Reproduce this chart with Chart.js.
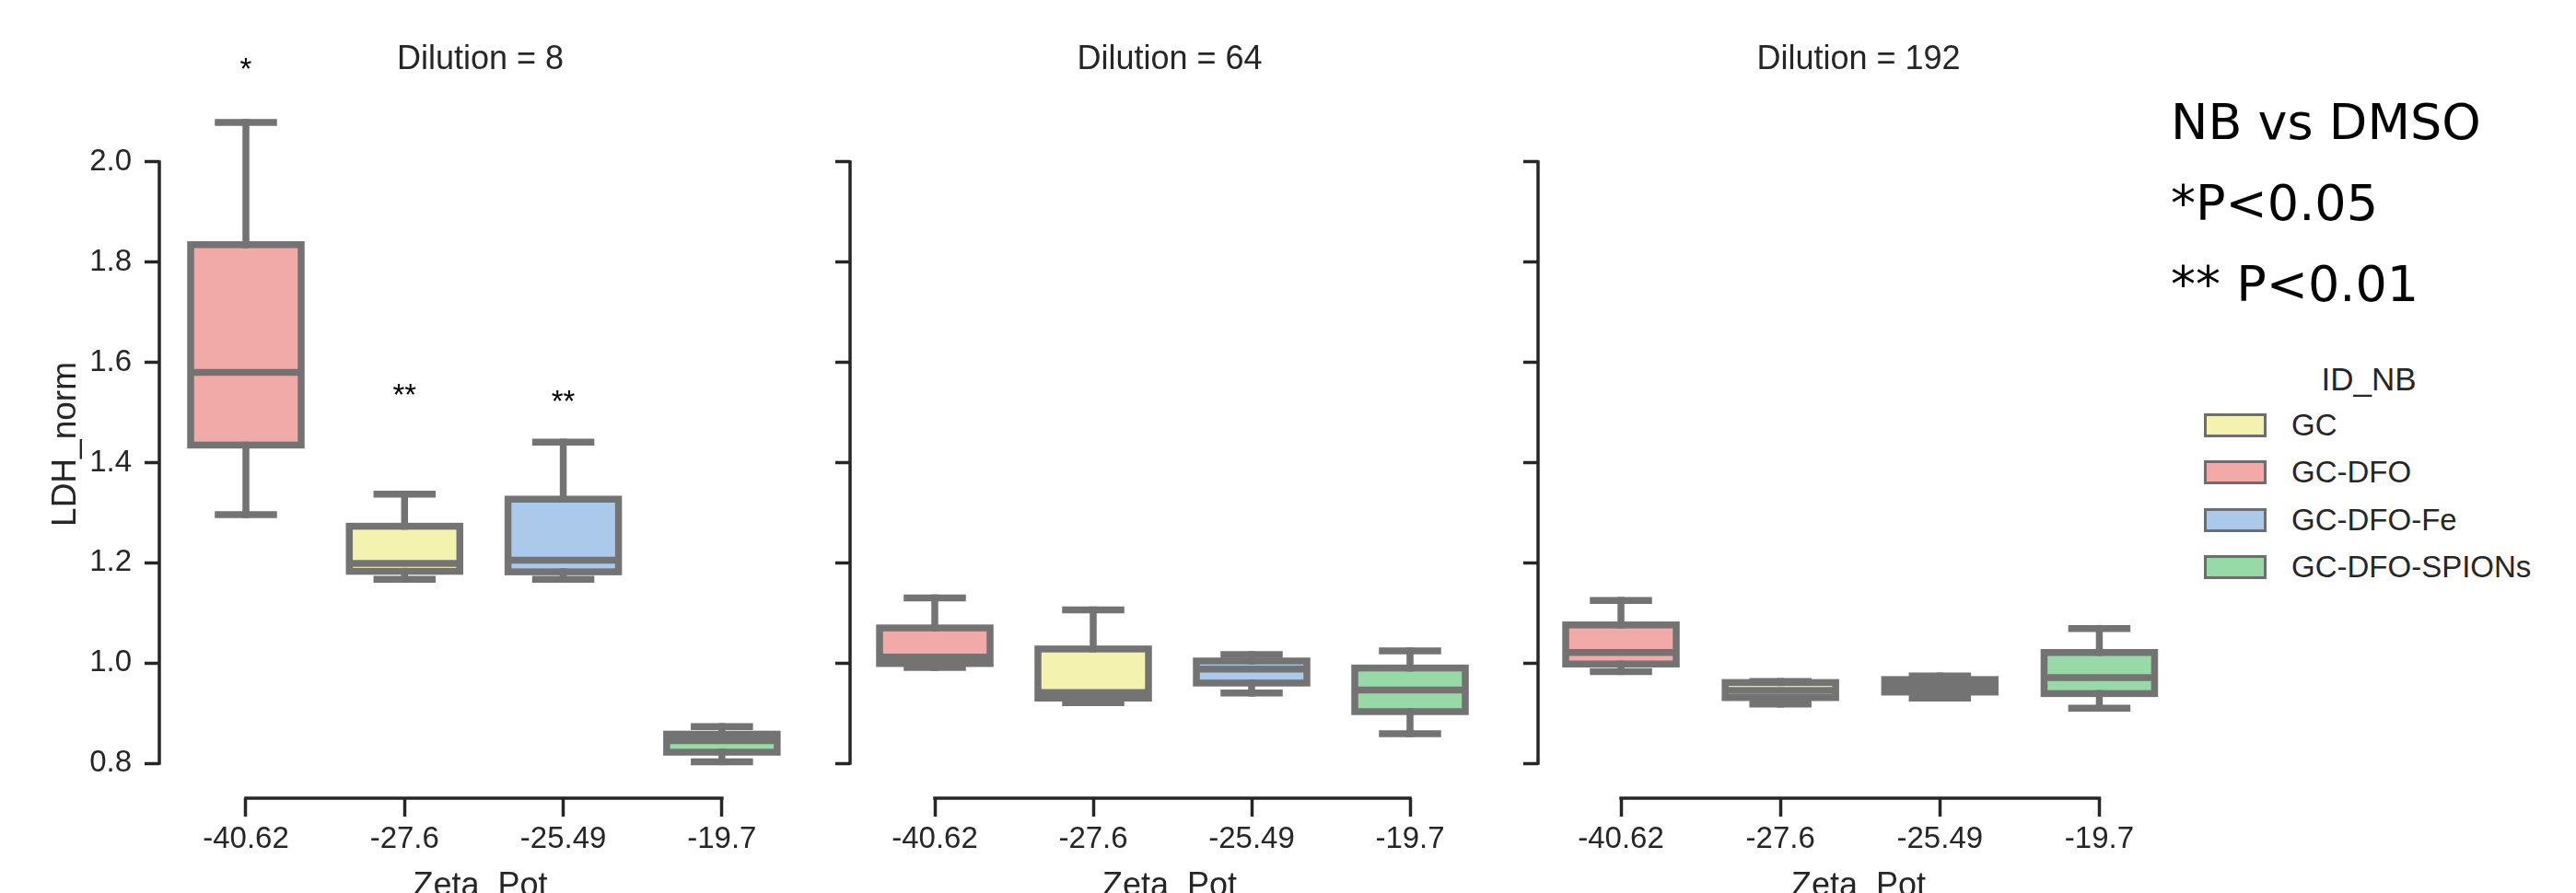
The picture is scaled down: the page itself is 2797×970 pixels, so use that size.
<!DOCTYPE html>
<html>
<head>
<meta charset="utf-8">
<title>LDH_norm by Zeta_Pot</title>
<script src="https://cdn.jsdelivr.net/npm/chart.js@4.4.1/dist/chart.umd.min.js"></script>
<style>
  html, body { margin: 0; padding: 0; background: #fff; overflow: hidden; }
  #wrap { position: relative; width: 2797px; height: 970px; overflow: hidden; }
  #wrap canvas { position: absolute; top: 0; }
  #note {
    position: absolute; left: 2357px; top: 89px;
    font-family: 'DejaVu Sans', Verdana, sans-serif; font-size: 54px; line-height: 88px;
    color: #000; white-space: pre;
  }
  #legend { position: absolute; left: 2393px; top: 388px; width: 358px;
    font-family: 'Liberation Sans', Arial, sans-serif; color: #262626; }
  #legend .ttl { text-align: center; font-size: 35px; line-height: 48px; }
  #legend .row { display: flex; align-items: center; height: 51.5px; font-size: 33px; white-space: nowrap; }
  #legend .sw { width: 68px; height: 26px; box-sizing: border-box; border: 3.5px solid #6e6e6e; margin-right: 27px; }
</style>
</head>
<body>
<div id="wrap">
  <div id="note">NB vs DMSO
*P&lt;0.05
** P&lt;0.01</div>
  <div id="legend"><div class="ttl">ID_NB</div></div>
</div>
<script>
/* ── Data ── */
var zetaLabels   = ['-40.62', '-27.6', '-25.49', '-19.7'];
var groupOfBox   = ['GC-DFO', 'GC', 'GC-DFO-Fe', 'GC-DFO-SPIONs'];
var legendGroups = ['GC', 'GC-DFO', 'GC-DFO-Fe', 'GC-DFO-SPIONs'];
var groupColors  = ['#f3f2af', '#f2aaa8', '#abc9ea', '#98daa7'];
var dilutions    = [8, 64, 192];
var yTicks       = [0.8, 1.0, 1.2, 1.4, 1.6, 1.8, 2.0];

// Dilution = 8
var d8Low  = [1.296, 1.167, 1.167, 0.803];
var d8Q1   = [1.435, 1.183, 1.182, 0.822];
var d8Med  = [1.580, 1.199, 1.205, 0.845];
var d8Q3   = [1.835, 1.273, 1.327, 0.858];
var d8High = [2.079, 1.337, 1.441, 0.873];
var d8Sig  = ['*', '**', '**', ''];
var d8SigY = [2.182, 1.531, 1.518, null];

// Dilution = 64
var d64Low  = [0.991, 0.921, 0.940, 0.859];
var d64Q1   = [0.999, 0.930, 0.960, 0.903];
var d64Med  = [1.012, 0.941, 0.988, 0.946];
var d64Q3   = [1.070, 1.028, 1.004, 0.990];
var d64High = [1.130, 1.106, 1.017, 1.024];

// Dilution = 192
var d192Low  = [0.983, 0.918, 0.930, 0.910];
var d192Q1   = [0.998, 0.931, 0.942, 0.939];
var d192Med  = [1.021, 0.945, 0.955, 0.971];
var d192Q3   = [1.076, 0.961, 0.967, 1.021];
var d192High = [1.125, 0.963, 0.974, 1.069];

/* ── Look ── */
var ink = '#262626';
var boxGray = '#737373';
var H = 1000;          // canvas height (page clips at 970)
var AREA_BOTTOM = 867; // x spine line
Chart.defaults.font.family = "'Liberation Sans', Arial, sans-serif";

var panels = [
    { low: d8Low,   q1: d8Q1,   med: d8Med,   q3: d8Q3,   high: d8High,   sig: d8Sig, sigY: d8SigY,
      left: 0,    width: 870, axisW: 173, xMin: -0.5456, yLabels: true },
    { low: d64Low,  q1: d64Q1,  med: d64Med,  q3: d64Q3,  high: d64High,  sig: [], sigY: [],
      left: 880,  width: 737, axisW: 43,  xMin: -0.5349, yLabels: false },
    { low: d192Low, q1: d192Q1, med: d192Med, q3: d192Q3, high: d192High, sig: [], sigY: [],
      left: 1627, width: 739, axisW: 43,  xMin: -0.52,   yLabels: false }
];

function seg(ctx, x1, y1, x2, y2) {
    ctx.beginPath(); ctx.moveTo(x1, y1); ctx.lineTo(x2, y2); ctx.stroke();
}

/* whiskers, caps, box outline, median + trimmed spines + stars */
var boxLines = {
    id: 'boxLines',
    afterDatasetsDraw: function(chart, args, opts) {
        var p = opts.stats; if (!p) return;
        var ctx = chart.ctx, y = chart.scales.y;
        var bars = chart.getDatasetMeta(0).data;
        ctx.save();
        ctx.strokeStyle = boxGray;
        ctx.lineWidth = 7.5;
        bars.forEach(function(bar, i) {
            var cx = bar.x, half = bar.width / 2;
            var yLo = y.getPixelForValue(p.low[i]), yQ1 = y.getPixelForValue(p.q1[i]);
            var yMd = y.getPixelForValue(p.med[i]), yQ3 = y.getPixelForValue(p.q3[i]);
            var yHi = y.getPixelForValue(p.high[i]);
            ctx.lineCap = 'square';
            seg(ctx, cx, yQ3, cx, yHi);
            seg(ctx, cx, yQ1, cx, yLo);
            seg(ctx, cx - half / 2, yHi, cx + half / 2, yHi);
            seg(ctx, cx - half / 2, yLo, cx + half / 2, yLo);
            ctx.lineCap = 'butt';
            ctx.lineJoin = 'miter';
            ctx.strokeRect(cx - half, yQ3, half * 2, yQ1 - yQ3);
            seg(ctx, cx - half, yMd, cx + half, yMd);
        });
        ctx.restore();
    },
    afterDraw: function(chart, args, opts) {
        var p = opts.stats; if (!p) return;
        var ctx = chart.ctx, x = chart.scales.x, y = chart.scales.y, a = chart.chartArea;
        ctx.save();
        ctx.strokeStyle = ink;
        ctx.lineWidth = 3.5;
        ctx.lineCap = 'square';
        seg(ctx, a.left, y.getPixelForValue(yTicks[0]), a.left, y.getPixelForValue(yTicks[yTicks.length - 1]));
        seg(ctx, x.getPixelForValue(0), a.bottom, x.getPixelForValue(zetaLabels.length - 1), a.bottom);
        ctx.fillStyle = '#000';
        ctx.font = "33px 'Liberation Sans', Arial, sans-serif";
        ctx.textAlign = 'center';
        ctx.textBaseline = 'middle';
        p.sig.forEach(function(s, i) {
            if (!s) return;
            ctx.fillText(s, x.getPixelForValue(i), y.getPixelForValue(p.sigY[i]));
        });
        ctx.restore();
    }
};

var wrap = document.getElementById('wrap');
panels.forEach(function(p, k) {
    var cv = document.createElement('canvas');
    cv.width = p.width; cv.height = H;
    cv.style.left = p.left + 'px';
    cv.style.width = p.width + 'px'; cv.style.height = H + 'px';
    wrap.appendChild(cv);

    new Chart(cv, {
        type: 'bar',
        data: {
            datasets: [{
                data: p.q1.map(function(v, i) { return { x: i, y: [v, p.q3[i]] }; }),
                backgroundColor: groupOfBox.map(function(g) { return groupColors[legendGroups.indexOf(g)]; }),
                borderWidth: 0,
                barThickness: 120
            }]
        },
        options: {
            responsive: false, animation: false, events: [], devicePixelRatio: 1,
            layout: { padding: 0 },
            plugins: {
                legend: { display: false },
                tooltip: { enabled: false },
                title: {
                    display: true, text: 'Dilution = ' + dilutions[k], fullSize: false,
                    color: ink, font: { size: 36, weight: 'normal' },
                    padding: { top: 43.4, bottom: 11.4 }
                },
                boxLines: { stats: p }
            },
            scales: {
                x: {
                    type: 'linear', min: p.xMin, max: 3.5, offset: false,
                    afterBuildTicks: function(s) { s.ticks = zetaLabels.map(function(_, i) { return { value: i }; }); },
                    afterFit: function(s) { s.height = H - AREA_BOTTOM; },
                    ticks: {
                        callback: function(v) { return zetaLabels[v]; },
                        color: ink, font: { size: 33 }, padding: 5, maxRotation: 0, autoSkip: false
                    },
                    grid: { offset: false, drawOnChartArea: false, drawTicks: true, tickLength: 20, tickWidth: 3.5, tickColor: ink },
                    border: { display: false },
                    title: { display: true, text: 'Zeta_Pot', color: ink, font: { size: 36 }, padding: { top: 0, bottom: 15.4 } }
                },
                y: {
                    type: 'linear', min: 0.7302, max: 2.1433,
                    afterBuildTicks: function(s) { s.ticks = yTicks.map(function(v) { return { value: v }; }); },
                    afterFit: function(s) { s.width = p.axisW; },
                    ticks: {
                        display: p.yLabels,
                        callback: function(v) { return v.toFixed(1); },
                        color: ink, font: { size: 33 }, padding: 14
                    },
                    grid: { drawOnChartArea: false, drawTicks: true, tickLength: 16, tickWidth: 3.5, tickColor: ink },
                    border: { display: false },
                    title: { display: p.yLabels, text: 'LDH_norm', color: ink, font: { size: 37 }, padding: { top: 49.8, bottom: 0 } }
                }
            }
        },
        plugins: [boxLines]
    });
});

/* ── Legend ── */
var leg = document.getElementById('legend');
legendGroups.forEach(function(g, i) {
    var row = document.createElement('div');
    row.className = 'row';
    var sw = document.createElement('span');
    sw.className = 'sw';
    sw.style.background = groupColors[i];
    var lab = document.createElement('span');
    lab.textContent = g;
    row.appendChild(sw); row.appendChild(lab);
    leg.appendChild(row);
});
</script>
</body>
</html>
